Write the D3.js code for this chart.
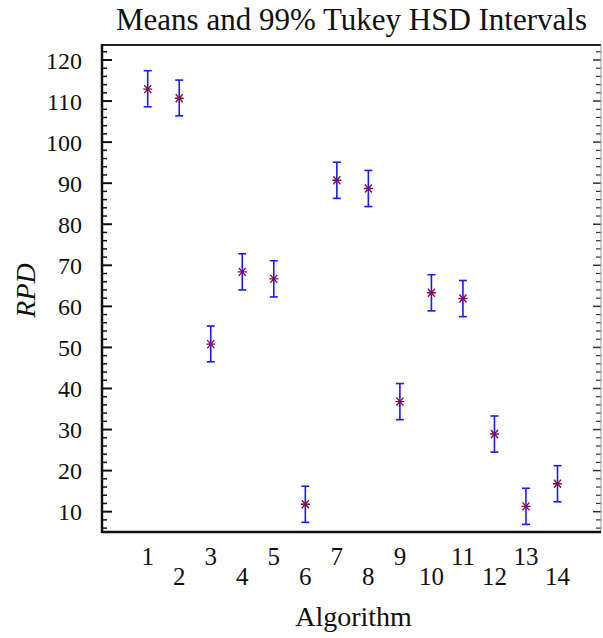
<!DOCTYPE html>
<meta charset="utf-8">
<script src="https://d3js.org/d3.v7.min.js"></script>
<style>
  body { margin: 0; background: #fff; }
  text { font-family: "Liberation Serif", "Times New Roman", serif; fill: #111; }
</style>
<div id="chart"></div>
<script>

// algorithms, means and 99% Tukey HSD interval limits
const algorithms = [1, 2, 3, 4, 5, 6, 7, 8, 9, 10, 11, 12, 13, 14];
const means = [112.9, 110.7, 50.8, 68.4, 66.7, 11.8, 90.7, 88.7, 36.8, 63.3, 61.9, 28.9, 11.3, 16.8];
const lower = [108.6, 106.4, 46.5, 64.0, 62.3, 7.4, 86.3, 84.3, 32.4, 58.9, 57.5, 24.5, 6.9, 12.4];
const upper = [117.4, 115.1, 55.2, 72.8, 71.1, 16.2, 95.1, 93.1, 41.2, 67.7, 66.3, 33.3, 15.7, 21.2];
const yTicks = [10, 20, 30, 40, 50, 60, 70, 80, 90, 100, 110, 120];

const W = 603, H = 638;
const margin = {top: 45, right: 2, bottom: 106, left: 102};
const width = W - margin.left - margin.right,
      height = H - margin.top - margin.bottom;

const svg = d3.select("#chart").append("svg")
    .attr("width", W)
    .attr("height", H);

const g = svg.append("g")
    .attr("transform", `translate(${margin.left},${margin.top})`);

const x = d3.scaleLinear().domain([-0.45, 15.38]).range([0, width]);
const y = d3.scaleLinear().domain([5.05, 123.65]).range([height, 0]);

// minor ticks every 2 units
const minor = d3.range(6, 124, 2).filter(d => d % 10 != 0);

// left axis
const left = g.append("g");
left.call(d3.axisLeft(y).tickValues(yTicks).tickSize(0).tickPadding(20))
    .call(a => a.select(".domain").remove());
left.selectAll("text").attr("font-size", 24).attr("dy", "0.34em");
left.selectAll(".major").data(yTicks).join("line")
    .attr("x1", 0).attr("x2", 10)
    .attr("y1", d => y(d)).attr("y2", d => y(d))
    .attr("stroke", "#111").attr("stroke-width", 2);
left.selectAll(".minor").data(minor).join("line")
    .attr("x1", 0).attr("x2", 5)
    .attr("y1", d => y(d)).attr("y2", d => y(d))
    .attr("stroke", "#111").attr("stroke-width", 1.5);

// right axis ticks (inward)
const right = g.append("g");
right.selectAll(".major").data(yTicks).join("line")
    .attr("x1", width).attr("x2", width - 8)
    .attr("y1", d => y(d)).attr("y2", d => y(d))
    .attr("stroke", "#333").attr("stroke-width", 1.5);
right.selectAll(".minor").data(minor).join("line")
    .attr("x1", width).attr("x2", width - 5)
    .attr("y1", d => y(d)).attr("y2", d => y(d))
    .attr("stroke", "#333").attr("stroke-width", 1.2);

// frame
g.append("line").attr("x1", 0).attr("x2", width).attr("y1", 0).attr("y2", 0)
    .attr("stroke", "#222").attr("stroke-width", 2);
g.append("line").attr("x1", width).attr("x2", width).attr("y1", 0).attr("y2", height)
    .attr("stroke", "#999").attr("stroke-width", 1);
g.append("line").attr("x1", 0).attr("x2", 0).attr("y1", -1).attr("y2", height + 1)
    .attr("stroke", "#111").attr("stroke-width", 2.5);
g.append("line").attr("x1", 0).attr("x2", width).attr("y1", height).attr("y2", height)
    .attr("stroke", "#111").attr("stroke-width", 2.5);

// x labels, staggered on two rows
g.selectAll(".xl").data(algorithms).join("text")
    .attr("x", d => x(d))
    .attr("y", (d, i) => height + (i % 2 == 0 ? 33 : 53))
    .attr("text-anchor", "middle")
    .attr("font-size", 25)
    .text(d => d);

// error bars
const bars = g.append("g").attr("stroke", "#1a1aff").attr("stroke-width", 1.6);
algorithms.forEach((a, i) => {
  const cx = x(a);
  bars.append("line").attr("x1", cx).attr("x2", cx).attr("y1", y(lower[i])).attr("y2", y(upper[i]));
  bars.append("line").attr("x1", cx - 4).attr("x2", cx + 4).attr("y1", y(lower[i])).attr("y2", y(lower[i]));
  bars.append("line").attr("x1", cx - 4).attr("x2", cx + 4).attr("y1", y(upper[i])).attr("y2", y(upper[i]));
});

// asterisk markers
const star = "M-4.5,0L4.5,0M-3.5,-4L3.5,4M-3.5,4L3.5,-4";
g.selectAll(".pt").data(algorithms).join("path")
    .attr("transform", (d, i) => `translate(${x(d)},${y(means[i])})`)
    .attr("d", star)
    .attr("fill", "none")
    .attr("stroke", "#8b0a4a")
    .attr("stroke-width", 1.4);

// titles
svg.append("text")
    .attr("x", margin.left + width / 2).attr("y", 30)
    .attr("text-anchor", "middle").attr("font-size", 31)
    .text("Means and 99% Tukey HSD Intervals");
svg.append("text")
    .attr("x", margin.left + width / 2 + 2).attr("y", 626)
    .attr("text-anchor", "middle").attr("font-size", 28)
    .text("Algorithm");
svg.append("text")
    .attr("transform", `translate(35,${margin.top + height / 2 + 2}) rotate(-90)`)
    .attr("text-anchor", "middle").attr("font-size", 28)
    .attr("font-style", "italic")
    .text("RPD");

</script>
